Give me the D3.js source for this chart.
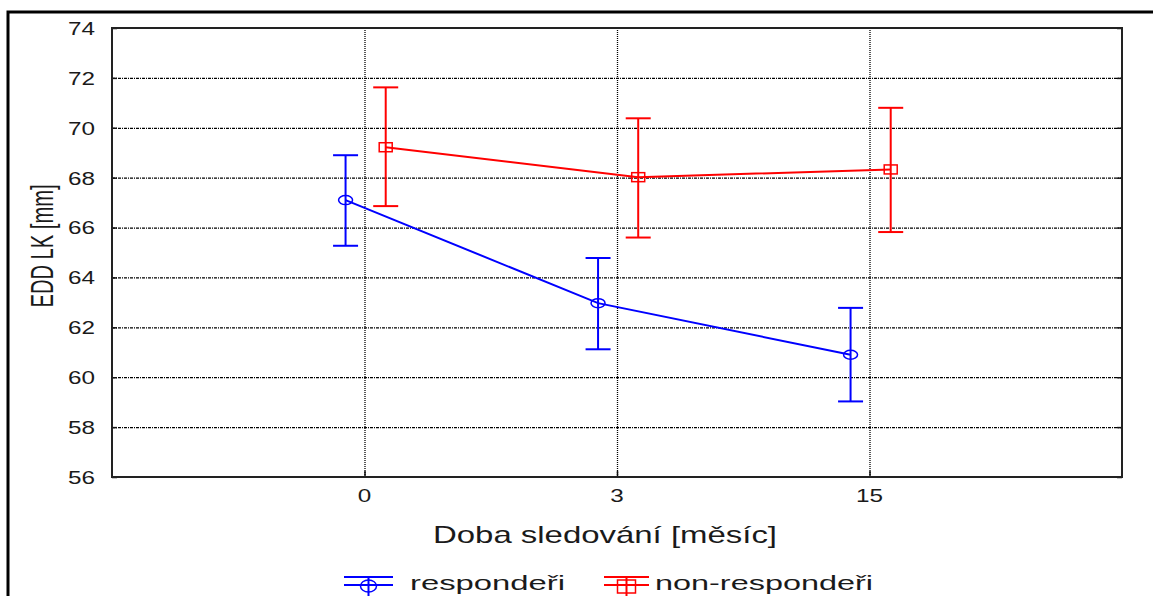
<!DOCTYPE html>
<html>
<head>
<meta charset="utf-8">
<script src="https://d3js.org/d3.v7.min.js"></script>
<style>
  body { margin: 0; background: #fff; }
  text { font-family: "Liberation Sans", Arial, sans-serif; fill: #1a1a1a; }
</style>
</head>
<body>
<svg id="chart" width="1153" height="596"></svg>
<script>
// data
const months = ["0", "3", "15"];
const yTicks = [56, 58, 60, 62, 64, 66, 68, 70, 72, 74];

const respMean  = [67.1, 62.97, 60.9];
const respUpper = [68.9, 64.78, 62.78];
const respLower = [65.27, 61.12, 59.03];

const nonMean  = [69.22, 68.02, 68.33];
const nonUpper = [71.62, 70.38, 70.8];
const nonLower = [66.86, 65.6, 65.82];

const seriesNames = ["respondeři", "non-respondeři"];

const svg = d3.select("#chart");
const plot = {left: 112, top: 28, right: 1122, bottom: 477};

// scales
const x = d3.scaleLinear().domain([-1, months.length]).range([plot.left, plot.right]);
const y = d3.scaleLinear().domain([56, 74]).range([plot.bottom, plot.top]);

// outer frame
svg.append("rect")
    .attr("x", 8).attr("y", 12)
    .attr("width", 1170).attr("height", 620)
    .attr("fill", "none").attr("stroke", "#000").attr("stroke-width", 3);

// horizontal gridlines
svg.append("g")
    .attr("transform", `translate(${plot.left},0)`)
    .call(d3.axisLeft(y).tickValues(yTicks.slice(1, -1)).tickSize(-(plot.right - plot.left)).tickFormat(""))
    .call(g => g.select(".domain").remove())
    .selectAll("line")
    .attr("stroke", "#000").attr("stroke-width", 1.2).attr("stroke-dasharray", "3,1,1,1");

// vertical gridlines
svg.append("g")
    .attr("transform", `translate(0,${plot.bottom})`)
    .call(d3.axisBottom(x).tickValues(d3.range(months.length)).tickSize(-(plot.bottom - plot.top)).tickFormat(""))
    .call(g => g.select(".domain").remove())
    .selectAll("line")
    .attr("stroke", "#000").attr("stroke-width", 1.3).attr("stroke-dasharray", "1,1");

// inner ticks
svg.append("g")
    .attr("transform", `translate(${plot.left},0)`)
    .call(d3.axisRight(y).tickValues(yTicks).tickSize(5).tickFormat(""))
    .call(g => g.select(".domain").remove())
    .selectAll("line").attr("stroke", "#111").attr("stroke-width", 1.5);
svg.append("g")
    .attr("transform", `translate(${plot.right},0)`)
    .call(d3.axisLeft(y).tickValues(yTicks).tickSize(5).tickFormat(""))
    .call(g => g.select(".domain").remove())
    .selectAll("line").attr("stroke", "#111").attr("stroke-width", 1.5);
svg.append("g")
    .attr("transform", `translate(0,${plot.bottom})`)
    .call(d3.axisTop(x).tickValues(d3.range(months.length)).tickSize(6).tickFormat(""))
    .call(g => g.select(".domain").remove())
    .selectAll("line").attr("stroke", "#111").attr("stroke-width", 1.5);

// plot frame
svg.append("rect")
    .attr("x", plot.left).attr("y", plot.top)
    .attr("width", plot.right - plot.left).attr("height", plot.bottom - plot.top)
    .attr("fill", "none").attr("stroke", "#222").attr("stroke-width", 2);

// tick labels
svg.append("g").selectAll("text")
    .data(yTicks)
    .join("text")
    .attr("x", 95).attr("y", d => y(d))
    .attr("dy", "0.36em")
    .attr("text-anchor", "end")
    .attr("font-size", 19)
    .attr("textLength", 27).attr("lengthAdjust", "spacingAndGlyphs")
    .text(d => d);

svg.append("g").selectAll("text")
    .data(months)
    .join("text")
    .attr("x", (d, i) => x(i)).attr("y", 502)
    .attr("text-anchor", "middle")
    .attr("font-size", 19)
    .attr("textLength", d => d.length * 13.5).attr("lengthAdjust", "spacingAndGlyphs")
    .text(d => d);

// axis titles
svg.append("text")
    .attr("x", 605).attr("y", 543)
    .attr("text-anchor", "middle")
    .attr("font-size", 24)
    .attr("textLength", 344).attr("lengthAdjust", "spacingAndGlyphs")
    .text("Doba sledování [měsíc]");

svg.append("text")
    .attr("transform", "translate(53,246) scale(1.3,1) rotate(-90)")
    .attr("text-anchor", "middle")
    .attr("font-size", 24)
    .attr("textLength", 123).attr("lengthAdjust", "spacingAndGlyphs")
    .text("EDD LK [mm]");

// series
function drawSeries(mean, upper, lower, color, offset, marker) {
    const g = svg.append("g");
    const cx = i => x(i + offset);
    g.append("path")
        .datum(mean)
        .attr("fill", "none")
        .attr("stroke", color).attr("stroke-width", 2)
        .attr("d", d3.line().x((d, i) => cx(i)).y(d => y(d)));
    // error bars
    g.selectAll(".bar")
        .data(mean)
        .join("line")
        .attr("x1", (d, i) => cx(i)).attr("x2", (d, i) => cx(i))
        .attr("y1", (d, i) => y(upper[i])).attr("y2", (d, i) => y(lower[i]))
        .attr("stroke", color).attr("stroke-width", 2);
    [upper, lower].forEach(arr => {
        g.selectAll(null)
            .data(arr)
            .join("line")
            .attr("x1", (d, i) => cx(i) - 12.5).attr("x2", (d, i) => cx(i) + 12.5)
            .attr("y1", d => y(d)).attr("y2", d => y(d))
            .attr("stroke", color).attr("stroke-width", 2);
    });
    if (marker === "circle") {
        g.selectAll("ellipse")
            .data(mean)
            .join("ellipse")
            .attr("cx", (d, i) => cx(i)).attr("cy", d => y(d))
            .attr("rx", 7).attr("ry", 4.5)
            .attr("fill", "none").attr("stroke", color).attr("stroke-width", 1.5);
    } else {
        g.selectAll("rect")
            .data(mean)
            .join("rect")
            .attr("x", (d, i) => cx(i) - 6.5).attr("y", d => y(d) - 4.5)
            .attr("width", 13).attr("height", 9)
            .attr("fill", "none").attr("stroke", color).attr("stroke-width", 1.5);
    }
}
drawSeries(respMean, respUpper, respLower, "#0000ff", -0.075, "circle");
drawSeries(nonMean, nonUpper, nonLower, "#ff0000", 0.084, "square");

// legend
const legend = [
    {name: seriesNames[0], color: "#0000ff", x0: 344, x1: 393, tx: 410, tw: 155, marker: "circle"},
    {name: seriesNames[1], color: "#ff0000", x0: 604, x1: 649, tx: 655, tw: 218, marker: "square"}
];
const lg = svg.append("g").selectAll("g").data(legend).join("g");
lg.append("line")
    .attr("x1", d => d.x0).attr("x2", d => d.x1).attr("y1", 577).attr("y2", 577)
    .attr("stroke", d => d.color).attr("stroke-width", 2);
lg.append("line")
    .attr("x1", d => d.x0).attr("x2", d => d.x1).attr("y1", 585).attr("y2", 585)
    .attr("stroke", d => d.color).attr("stroke-width", 2);
lg.append("line")
    .attr("x1", d => (d.x0 + d.x1) / 2).attr("x2", d => (d.x0 + d.x1) / 2)
    .attr("y1", 577).attr("y2", 600)
    .attr("stroke", d => d.color).attr("stroke-width", 2);
lg.filter(d => d.marker === "circle").append("ellipse")
    .attr("cx", d => (d.x0 + d.x1) / 2).attr("cy", 586)
    .attr("rx", 8).attr("ry", 6)
    .attr("fill", "none").attr("stroke", d => d.color).attr("stroke-width", 1.5);
lg.filter(d => d.marker === "square").append("rect")
    .attr("x", d => (d.x0 + d.x1) / 2 - 9).attr("y", 580)
    .attr("width", 18).attr("height", 13)
    .attr("fill", "none").attr("stroke", d => d.color).attr("stroke-width", 1.5);
lg.append("text")
    .attr("x", d => d.tx).attr("y", 590)
    .attr("font-size", 20)
    .attr("textLength", d => d.tw).attr("lengthAdjust", "spacingAndGlyphs")
    .text(d => d.name);
</script>
</body>
</html>
